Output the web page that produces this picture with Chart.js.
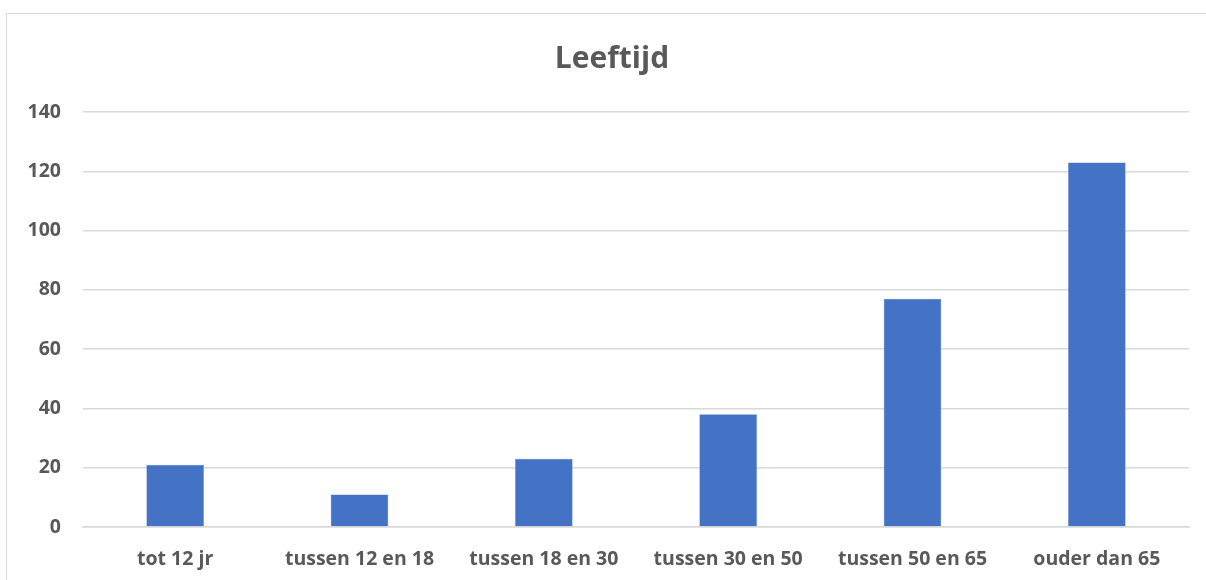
<!DOCTYPE html>
<html>
<head>
<meta charset="utf-8">
<script src="https://cdn.jsdelivr.net/npm/chart.js@4"></script>
<style>
html,body{margin:0;padding:0;background:#fff;}
#wrap{position:relative;width:1206px;height:580px;overflow:hidden;}
#frame{position:absolute;left:6px;top:13px;width:1210px;height:600px;border:1.5px solid #d9d9d9;box-sizing:border-box;pointer-events:none;}
canvas{position:absolute;left:0;top:0;}
</style>
</head>
<body>
<div id="wrap">
<canvas id="c" width="1206" height="580"></canvas>
<div id="frame"></div>
</div>
<script>
const title = "Leeftijd";
const categories = ["tot 12 jr","tussen 12 en 18","tussen 18 en 30","tussen 30 en 50","tussen 50 en 65","ouder dan 65"];
const values = [21, 11, 23, 38, 77, 123];
const yTicks = [0, 20, 40, 60, 80, 100, 120, 140];

const FONT = "'Open Sans', sans-serif";
const titleShift = {
  id: 'titleShift',
  afterLayout(chart) {
    if (chart.titleBlock) { chart.titleBlock.left = 35; }
  }
};
new Chart(document.getElementById('c'), {
  type: 'bar',
  data: {
    labels: categories,
    datasets: [{
      data: values,
      backgroundColor: '#4472C4',
      borderColor: '#5a84cf',
      borderWidth: 0.5,
      categoryPercentage: 1,
      barPercentage: 0.3125
    }]
  },
  plugins: [titleShift],
  options: {
    responsive: false,
    animation: false,
    devicePixelRatio: 1,
    layout: { padding: { left: 8, right: 17, top: 40, bottom: 0 } },
    plugins: {
      legend: { display: false },
      tooltip: { enabled: false },
      title: {
        display: true,
        text: title,
        color: '#595959',
        font: { family: FONT, size: 30, weight: 'bold' },
        padding: { top: 1, bottom: 35 }
      }
    },
    scales: {
      x: {
        grid: { display: false, drawTicks: false },
        border: { display: true, color: '#d9d9d9', width: 1.5 },
        ticks: { color: '#595959', font: { family: FONT, size: 19.5, weight: 'bold' }, padding: 21, maxRotation: 0, autoSkip: false },
        afterFit: s => { s.height = 53; }
      },
      y: {
        min: 0, max: 140,
        afterBuildTicks: s => { s.ticks = yTicks.map(v => ({ value: v })); },
        grid: { color: '#d9d9d9', lineWidth: 1.5, drawTicks: false },
        border: { display: false },
        ticks: { color: '#595959', font: { family: FONT, size: 19.5, weight: 'bold' }, padding: 22 },
        afterFit: s => { s.width = 75; }
      }
    }
  }
});
</script>
</body>
</html>
